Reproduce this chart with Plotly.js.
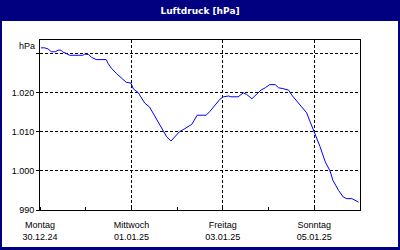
<!DOCTYPE html>
<html>
<head>
<meta charset="utf-8">
<script src="https://cdn.plot.ly/plotly-3.0.1.min.js"></script>
<style>
html,body{margin:0;padding:0;background:#fff;}
#chart{width:400px;height:250px;}
</style>
</head>
<body>
<div id="chart"></div>
<script>
const times = [
  '2024-12-30 00:30','2024-12-30 02:30','2024-12-30 04:15','2024-12-30 06:00','2024-12-30 08:00',
  '2024-12-30 09:30','2024-12-30 11:00','2024-12-30 12:00','2024-12-30 13:15','2024-12-30 15:30',
  '2024-12-30 22:30','2024-12-30 23:30','2024-12-31 01:30','2024-12-31 03:00','2024-12-31 05:30',
  '2024-12-31 10:45','2024-12-31 11:45','2024-12-31 13:30','2024-12-31 16:00','2024-12-31 18:45',
  '2024-12-31 21:15','2024-12-31 23:45','2025-01-01 01:00','2025-01-01 03:30','2025-01-01 07:00',
  '2025-01-01 09:30','2025-01-01 13:15','2025-01-01 16:45','2025-01-01 18:30','2025-01-01 20:45',
  '2025-01-01 23:00','2025-01-02 01:15','2025-01-02 03:30','2025-01-02 06:00','2025-01-02 07:45',
  '2025-01-02 10:30','2025-01-02 15:15','2025-01-02 17:15','2025-01-02 20:00','2025-01-02 22:30',
  '2025-01-03 00:15','2025-01-03 03:00','2025-01-03 04:15','2025-01-03 08:00','2025-01-03 10:45',
  '2025-01-03 12:30','2025-01-03 15:15','2025-01-03 17:45','2025-01-03 20:00','2025-01-03 22:15',
  '2025-01-04 00:30','2025-01-04 03:30','2025-01-04 05:15','2025-01-04 07:30','2025-01-04 10:30',
  '2025-01-04 12:15','2025-01-04 14:45','2025-01-04 18:00','2025-01-04 20:00','2025-01-04 21:45',
  '2025-01-05 00:00','2025-01-05 03:00','2025-01-05 05:45','2025-01-05 08:15','2025-01-05 09:45',
  '2025-01-05 12:45','2025-01-05 15:15','2025-01-05 17:00','2025-01-05 19:45','2025-01-05 23:15'
];
const pressure = [
  1031.4,1031.4,1031.1,1030.4,1030.4,
  1030.8,1030.8,1030.3,1030.1,1029.5,
  1029.5,1029.8,1029.7,1029.0,1028.4,
  1028.4,1027.4,1026.2,1024.9,1023.8,
  1022.6,1022.4,1020.9,1020.0,1017.3,
  1016.3,1013.0,1010.0,1008.7,1007.6,
  1008.7,1010.0,1010.6,1011.3,1011.9,
  1014.2,1014.2,1015.2,1016.9,1018.3,
  1018.9,1019.1,1018.9,1018.9,1019.9,
  1019.5,1018.4,1019.5,1020.6,1021.2,
  1022.0,1022.0,1021.2,1021.0,1020.6,
  1019.3,1017.9,1016.0,1014.8,1012.6,
  1010.0,1006.2,1002.3,1000.0,997.6,
  995.0,993.3,992.9,992.9,992.0
];
const yTickVals = [990, 1000, 1010, 1020, 1030];
const yTickText = ['990', '1.000', '1.010', '1.020', ''];
const xTickVals = ['2024-12-30', '2025-01-01', '2025-01-03', '2025-01-05'];
const dayNames = ['Montag', 'Mittwoch', 'Freitag', 'Sonntag'];
const dateLabels = ['30.12.24', '01.01.25', '03.01.25', '05.01.25'];
const xRange = ['2024-12-30', '2025-01-06'];
const yRange = [990, 1033.4];
const titleText = 'Luftdruck [hPa]';
const unitText = 'hPa';

const tickFont = {family: 'Liberation Sans, Arial, sans-serif', size: 9, color: '#000'};
const W = 400, H = 250, L = 40, R = 40, T = 40, B = 40;
const pw = W - L - R, ph = H - T - B;
const px = v => (v - L) / pw;
const py = v => (H - B - v) / ph;

const traces = [
  {x: times, y: pressure, type: 'scatter', mode: 'lines',
   line: {color: '#0000ff', width: 1}, hoverinfo: 'skip', showlegend: false},
  {x: times, y: pressure, type: 'scatter', mode: 'lines', xaxis: 'x2',
   line: {color: 'rgba(0,0,0,0)', width: 0}, hoverinfo: 'skip', showlegend: false}
];

const layout = {
  width: W, height: H,
  margin: {l: L, r: R, t: T, b: B, pad: 0},
  paper_bgcolor: '#000080',
  plot_bgcolor: '#ffffff',
  separators: ',.',
  showlegend: false,
  title: {
    text: titleText,
    font: {family: 'DejaVu Sans, sans-serif', size: 9, color: '#ffffff', weight: 'bold'},
    x: 0.5, xanchor: 'center', xref: 'container',
    y: 1 - 10.5 / H, yanchor: 'middle', yref: 'container'
  },
  xaxis: {
    type: 'date', range: xRange, fixedrange: true,
    tickmode: 'array', tickvals: xTickVals, ticktext: dayNames,
    tickfont: tickFont, ticks: '', ticklabelstandoff: 6,
    showgrid: true, gridcolor: '#000', gridwidth: 1, griddash: '3px,2px',
    showline: true, mirror: true, linecolor: '#000', linewidth: 1, zeroline: false,
    minor: {tickmode: 'linear', tick0: '2024-12-30', dtick: 86400000,
            ticks: 'inside', ticklen: 3, tickcolor: '#000', tickwidth: 1, showgrid: false}
  },
  xaxis2: {
    type: 'date', range: xRange, overlaying: 'x', anchor: 'y', side: 'bottom', fixedrange: true,
    tickmode: 'array', tickvals: xTickVals, ticktext: dateLabels,
    tickfont: tickFont, ticks: '', ticklabelstandoff: 20,
    showgrid: false, showline: false, zeroline: false
  },
  yaxis: {
    range: yRange, fixedrange: true,
    tickmode: 'array', tickvals: yTickVals, ticktext: yTickText,
    tickfont: tickFont, ticks: 'outside', ticklen: 3, tickcolor: '#000', tickwidth: 1,
    showgrid: true, gridcolor: '#000', gridwidth: 1, griddash: '3px,2px',
    showline: true, mirror: true, linecolor: '#000', linewidth: 1, zeroline: false
  },
  shapes: [
    {type: 'rect', xref: 'paper', yref: 'paper', layer: 'below',
     x0: px(2), x1: px(398), y0: py(247), y1: py(21),
     fillcolor: '#ffffff', line: {width: 0}}
  ],
  annotations: [
    {text: unitText, xref: 'paper', yref: 'paper', x: px(37), y: py(45.5),
     xanchor: 'right', yanchor: 'middle', showarrow: false, font: tickFont}
  ]
};

Plotly.newPlot('chart', traces, layout, {staticPlot: true, displayModeBar: false});
</script>
</body>
</html>
